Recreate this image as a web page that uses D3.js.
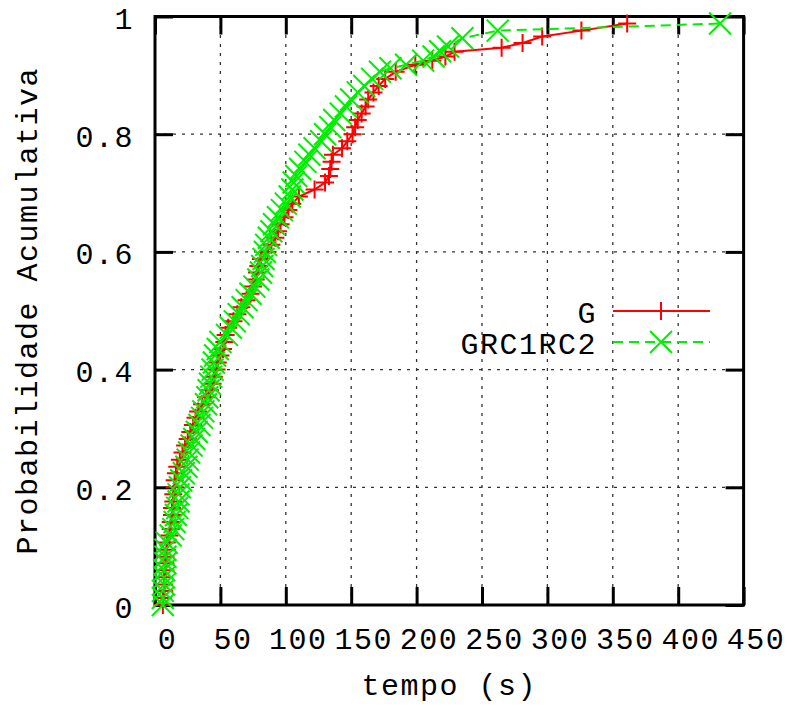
<!DOCTYPE html>
<html>
<head>
<meta charset="utf-8">
<script src="https://cdn.jsdelivr.net/npm/d3@7"></script>
<style>
  body { margin: 0; background: #fff; }
  text { font-family: "Liberation Mono", "DejaVu Sans Mono", monospace; font-size: 30px; letter-spacing: 1.5px; fill: #000; }
</style>
</head>
<body>
<svg id="cdf" width="789" height="709"></svg>
<script>
// series G (red, +)
var gTempo = [6, 6, 7, 7, 7, 8, 8, 8, 9, 9,
  11, 12, 12, 13, 13, 14, 14, 15, 15, 16, 17,
  19, 21, 23, 25, 27, 29, 31, 33, 36, 39,
  42, 44, 45, 47, 48, 50, 52, 53, 54, 56,
  60, 63, 66, 70, 73, 75, 77, 78, 79, 81,
  86, 89, 92, 94, 96, 99, 102, 105, 110, 122, 130,
  133, 134, 135, 136, 143, 147, 151, 153, 155, 158, 161, 163, 167, 171, 176, 184,
  199, 212, 222, 229, 265, 281, 296, 326, 361];
var gProb = [0, .012, .024, .035, .047, .059, .071, .082, .094, .106,
  .118, .129, .141, .153, .165, .176, .188, .2, .212, .224, .235,
  .247, .259, .271, .282, .294, .306, .318, .329, .341, .353,
  .365, .376, .388, .4, .412, .424, .435, .447, .459, .471,
  .482, .494, .506, .518, .529, .541, .553, .565, .576, .588,
  .6, .612, .624, .635, .647, .659, .671, .682, .694, .706, .718,
  .729, .741, .753, .765, .776, .788, .8, .812, .824, .835, .847, .859, .871, .882, .894, .906,
  .918, .925, .932, .94, .947, .955, .966, .976, .988];

// series GRC1RC2 (green, x)
var rcTempo = [6, 6, 6, 7, 7, 7, 8, 8, 8, 9,
  12, 14, 15, 16, 17, 18, 18, 19, 20,
  22, 24, 25, 26, 28, 30, 32, 34, 36, 37, 39, 40, 41,
  42, 43, 44, 45, 46, 48, 50, 55, 58, 61, 64, 67, 70, 73,
  76, 79, 81, 82, 83, 84, 85, 87, 89, 91, 94, 97, 100,
  103, 105, 106, 108, 111, 115, 118, 122, 127, 130, 134, 137,
  142, 146, 150, 155, 160, 166, 172, 180, 192, 205, 213, 218, 224, 235, 262, 432];
var rcProb = [0, .012, .024, .035, .047, .059, .071, .082, .094, .106,
  .118, .129, .141, .153, .165, .176, .188, .2, .212,
  .224, .235, .247, .259, .271, .282, .294, .306, .318, .329, .341, .353, .365,
  .376, .388, .4, .412, .424, .435, .447, .459, .471, .482, .494, .506, .518, .529,
  .541, .553, .565, .576, .588, .6, .612, .624, .635, .647, .659, .671, .682,
  .694, .706, .718, .729, .741, .753, .765, .776, .788, .8, .812, .824,
  .835, .847, .859, .871, .882, .894, .906, .912, .918, .925, .932, .941, .949, .963, .976, .988];

var xTicks = [0, 50, 100, 150, 200, 250, 300, 350, 400, 450];
var yTicks = [0, 0.2, 0.4, 0.6, 0.8, 1];
var yTickLabels = ["0", "0.2", "0.4", "0.6", "0.8", "1"];

var svg = d3.select("#cdf");
var margin = {top: 16.5, right: 45.4, bottom: 104, left: 155};
var width = 789 - margin.left - margin.right;
var height = 709 - margin.top - margin.bottom;

var x = d3.scaleLinear().domain([0, 450]).range([margin.left, margin.left + width]);
var y = d3.scaleLinear().domain([0, 1]).range([margin.top + height, margin.top]);

// grid
var grid = svg.append("g").attr("class", "grid")
  .attr("stroke", "#333").attr("stroke-width", 1.3).attr("stroke-dasharray", "3,6");
grid.selectAll("line.v").data(xTicks.slice(1, -1)).enter().append("line")
  .attr("x1", d => x(d)).attr("x2", d => x(d))
  .attr("y1", y(0)).attr("y2", y(1));
grid.selectAll("line.h").data(yTicks.slice(1, -1)).enter().append("line")
  .attr("x1", x(0)).attr("x2", x(450))
  .attr("y1", d => y(d)).attr("y2", d => y(d));

// axes, ticks pointing inward on all four sides
var tickLen = 18;
var bottomAxis = svg.append("g")
  .attr("transform", "translate(0," + y(0) + ")")
  .call(d3.axisBottom(x).tickValues(xTicks).tickSize(-tickLen).tickSizeOuter(0));
bottomAxis.selectAll("text")
  .attr("y", 44).attr("dy", null).attr("dx", 12);

svg.append("g")
  .attr("transform", "translate(0," + y(1) + ")")
  .call(d3.axisTop(x).tickValues(xTicks).tickSize(-tickLen).tickSizeOuter(0).tickFormat(""));

var leftAxis = svg.append("g")
  .attr("transform", "translate(" + x(0) + ",0)")
  .call(d3.axisLeft(y).tickValues(yTicks).tickSize(-tickLen).tickSizeOuter(0)
    .tickFormat((d, i) => yTickLabels[i]));
leftAxis.selectAll("text")
  .attr("x", -21).attr("dy", 12).attr("text-anchor", "end");

svg.append("g")
  .attr("transform", "translate(" + x(450) + ",0)")
  .call(d3.axisRight(y).tickValues(yTicks).tickSize(-tickLen).tickSizeOuter(0).tickFormat(""));

svg.selectAll(".domain").remove();
svg.selectAll(".tick line").attr("stroke", "#000").attr("stroke-width", 3);
svg.selectAll(".tick text").attr("font-family", null).attr("font-size", null).attr("fill", "#000");

// frame
svg.append("rect")
  .attr("x", x(0)).attr("y", y(1))
  .attr("width", x(450) - x(0)).attr("height", y(0) - y(1))
  .attr("fill", "none").attr("stroke", "#000").attr("stroke-width", 3);

// axis labels
svg.append("text")
  .attr("x", (x(0) + x(450)) / 2)
  .attr("y", 695)
  .attr("text-anchor", "middle")
  .text("tempo (s)");

svg.append("text")
  .attr("transform", "translate(37," + (y(0) + y(1)) / 2 + ") rotate(-90)")
  .attr("text-anchor", "middle")
  .text("Probabilidade Acumulativa");

// series
var plus = "M-9,0H9M0,-9V9";
var cross = "M-11,-11L11,11M-11,11L11,-11";

var gData = gTempo.map((t, i) => [t, gProb[i]]);
var rcData = rcTempo.map((t, i) => [t, rcProb[i]]);

var line = d3.line().x(d => x(d[0])).y(d => y(d[1]));

var red = "#ff0000";
var green = "#00ee00";

svg.append("path").datum(gData)
  .attr("d", line).attr("fill", "none")
  .attr("stroke", red).attr("stroke-width", 2);
svg.selectAll("path.g").data(gData).enter().append("path")
  .attr("class", "g")
  .attr("transform", d => "translate(" + x(d[0]) + "," + y(d[1]) + ")")
  .attr("d", plus).attr("stroke", red).attr("stroke-width", 2);

svg.append("path").datum(rcData)
  .attr("d", line).attr("fill", "none")
  .attr("stroke", green).attr("stroke-width", 2).attr("stroke-dasharray", "10,6");
svg.selectAll("path.rc").data(rcData).enter().append("path")
  .attr("class", "rc")
  .attr("transform", d => "translate(" + x(d[0]) + "," + y(d[1]) + ")")
  .attr("d", cross).attr("stroke", green).attr("stroke-width", 2);

// legend
var legend = [
  {name: "G", color: red, dash: null, mark: plus, ly: 311},
  {name: "GRC1RC2", color: green, dash: "10,6", mark: cross, ly: 342}
];
var key = svg.append("g").attr("class", "key");
legend.forEach(function(k) {
  key.append("text")
    .attr("x", 597).attr("y", k.ly + 12)
    .attr("text-anchor", "end")
    .text(k.name);
  key.append("line")
    .attr("x1", 613).attr("x2", 710)
    .attr("y1", k.ly).attr("y2", k.ly)
    .attr("stroke", k.color).attr("stroke-width", 2)
    .attr("stroke-dasharray", k.dash);
  key.append("path")
    .attr("transform", "translate(661," + k.ly + ")")
    .attr("d", k.mark).attr("stroke", k.color).attr("stroke-width", 2);
});
</script>
</body>
</html>
